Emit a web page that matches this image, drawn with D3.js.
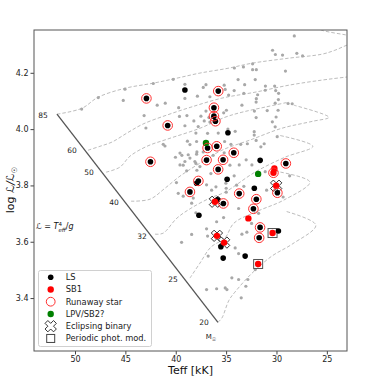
<!DOCTYPE html>
<html>
<head>
<meta charset="utf-8">
<script src="https://cdn.jsdelivr.net/npm/d3@7"></script>
<style>
body { margin: 0; background: #fff; }
text { font-family: 'DejaVu Sans', sans-serif; }
</style>
</head>
<body>
<div id="chart"></div>
<script>
// sHRD: log L_spec vs Teff

var xTicks = [50, 45, 40, 35, 30, 25]
var yTicks = [3.4, 3.6, 3.8, 4.0, 4.2]

// comparison sample (gray)
var otherStars = [
  [49.34,4.071],[47.69,4.112],[45.04,4.142],[45.21,4.102],[42.23,4.162],[40.25,4.177],[39.09,4.159],[39.09,4.109],
  [41.84,4.085],[41.04,4.092],[43.14,4.048],[42.96,4.004],[39.71,4.076],[39.63,4.045],[38.89,4.048],[39.09,4.012],
  [41.24,3.946],[41.07,3.940],[40.03,3.900],[39.58,3.915],[39.39,3.907],[39.26,3.872],[39.93,3.810],[38.84,3.957],
  [38.59,3.945],[37.85,4.117],[37.27,4.148],[37.00,4.158],[36.61,4.115],[37.00,4.064],[37.50,4.046],[38.20,4.029],
  [37.77,4.009],[36.61,4.025],[36.71,4.041],[35.24,4.058],[34.97,4.067],[35.19,4.156],[35.09,4.141],[28.23,4.331],
  [30.39,4.280],[30.11,4.265],[29.40,4.263],[27.98,4.269],[27.41,4.260],[34.18,4.217],[33.28,4.221],[32.37,4.232],
  [32.37,4.211],[32.00,4.211],[29.11,4.206],[33.81,4.176],[32.11,4.176],[33.16,4.158],[31.10,4.153],[30.18,4.153],
  [31.12,4.138],[30.08,4.137],[29.79,4.127],[34.20,4.137],[33.24,4.127],[31.87,4.122],[34.75,4.121],[32.00,4.108],
  [32.02,4.096],[33.43,4.085],[29.81,4.105],[30.13,4.092],[28.85,4.091],[28.44,4.090],[32.19,4.064],[30.92,4.066],
  [29.84,4.067],[32.02,4.041],[30.04,4.043],[30.41,4.026],[37.17,4.029],[34.82,4.000],[36.84,3.985],[38.00,3.986],
  [35.78,3.986],[32.21,3.991],[32.21,3.979],[34.10,3.992],[29.93,3.973],[30.13,4.008],[35.15,3.956],[33.55,3.946],
  [34.52,3.946],[32.89,3.948],[32.02,3.960],[31.55,3.937],[31.22,3.948],[37.90,3.919],[37.27,3.919],[35.19,3.916],
  [33.01,3.891],[33.70,3.873],[32.44,3.873],[37.90,3.854],[38.00,3.878],[31.12,3.849],[28.69,3.834],[36.51,3.842],
  [34.20,3.834],[36.01,3.795],[33.24,3.797],[35.02,3.808],[34.99,3.790],[34.99,3.776],[29.34,3.759],[30.98,3.783],
  [33.96,3.801],[37.93,3.956],[38.76,3.909],[38.59,3.897],[37.93,3.911],[38.10,3.885],[39.09,3.885],[39.58,3.873],
  [38.92,3.852],[37.60,3.867],[39.75,3.772],[38.26,3.755],[38.42,3.737],[36.94,3.802],[36.28,3.907],[34.62,3.872],
  [36.44,3.783],[39.26,3.762],[35.94,3.671],[35.25,3.686],[32.47,3.665],[33.43,3.627],[32.94,3.634],[34.92,3.590],
  [34.10,3.578],[33.76,3.558],[32.11,3.501],[34.43,3.472],[33.76,3.466],[32.84,3.466],[33.04,3.442],[35.09,3.436],
  [34.92,3.430],[33.50,3.401],[36.94,3.430],[35.94,3.433],[38.42,3.626],[36.94,3.646],[39.42,3.598],[36.78,3.549],
  [38.00,3.703],[36.84,3.620],[33.76,3.718],[31.78,3.701]
]

// [Teff, logL, runaway]
var lsStars = [
  [42.91,4.109,1],[35.78,4.135,1],[40.80,4.013,1],[36.21,4.076,1],[36.21,4.046,1],[36.06,4.028,1],
  [36.84,3.933,1],[35.93,3.939,1],[42.51,3.884,1],[36.94,3.890,1],[35.30,3.891,1],[35.79,3.857,1],
  [37.75,3.816,1],[38.59,3.777,1],[34.24,3.916,1],[29.07,3.878,1],[29.91,3.774,1],[35.27,3.736,1],
  [33.70,3.771,1],[32.00,3.751,1],[32.29,3.717,1],[31.63,3.651,1],[31.72,3.614,1],
  [39.09,4.139,0],[34.82,3.987,0],[31.62,3.889,0],[34.90,3.822,0],[37.93,3.808,0],[35.85,3.749,0],
  [37.70,3.694,0],[29.81,3.638,0],[35.52,3.582,0],[35.29,3.542,0],[33.11,3.549,0],[32.20,3.790,0]
]
var sb1Stars = [
  [30.21,3.860,0],[30.30,3.845,1],[30.03,3.799,0],[36.11,3.742,0],[32.79,3.683,0],
  [30.39,3.631,0],[35.91,3.621,0],[35.20,3.597,0],[31.82,3.521,0]
]
var lpvStars = [[37.00,3.951],[31.82,3.841]]
var eclipsing = [[30.03,3.799],[36.11,3.742],[35.91,3.621],[35.20,3.597]]
var periodic = [[30.39,3.631],[31.82,3.521]]

// evolutionary tracks
var track85 = [[51.79,4.053],[49.31,4.074],[47.72,4.113],[45.04,4.145],[42.26,4.163],[39.88,4.181],[37.60,4.199],
  [34.82,4.216],[32.44,4.234],[28.77,4.252],[25.50,4.266],[24.21,4.280],[23.02,4.298],[21.53,4.316],[21.53,4.380],
  [26.49,4.366],[25.50,4.351],[23.02,4.334],[21.23,4.323]]
var track60 = [[48.71,3.925],[47.52,3.939],[46.33,3.954],[44.84,3.986],[43.25,4.018],[40.87,4.050],[38.49,4.078],
  [35.42,4.110],[32.14,4.131],[28.77,4.156],[25.50,4.174],[23.02,4.185],[21.23,4.192]]
var track50 = [[46.92,3.847],[45.54,3.865],[44.54,3.904],[42.86,3.939],[40.87,3.964],[37.60,4.003],[35.12,4.042],
  [33.43,4.060],[31.15,4.078],[28.77,4.096]]
var track40 = [[44.44,3.744],[42.56,3.751],[41.07,3.790],[39.58,3.833],[37.60,3.879],[35.42,3.925],[32.64,3.961],
  [29.47,4.003],[26.39,4.028],[24.80,4.042],[28.28,4.085]]
var track32 = [[42.06,3.627],[41.27,3.630],[39.88,3.684],[38.49,3.719],[36.61,3.755],[35.12,3.776],[32.14,3.847],
  [29.17,3.900],[26.39,3.939],[29.86,3.979]]
var track25 = [[38.59,3.471],[37.60,3.524],[36.51,3.581],[35.12,3.613],[34.23,3.666],[31.85,3.709],[29.27,3.748],
  [26.69,3.812],[30.16,3.851]]
var track20 = [[35.81,3.314],[35.42,3.329],[34.72,3.392],[34.13,3.421],[32.44,3.488],[30.46,3.549],[28.47,3.591],
  [26.09,3.659],[29.17,3.709]]
var zams = [[51.79,4.053],[35.81,3.314]]
var massLabels = [['85',53.17,4.050],['60',50.30,3.925],['50',48.61,3.847],['40',46.13,3.741],
  ['32',43.35,3.620],['25',40.28,3.467],['20',37.20,3.314]]

var svg = d3.select('#chart').append('svg').attr('width', 382).attr('height', 382)

var x = d3.scaleLinear().domain([54.07, 23.0]).range([34, 347])
var y = d3.scaleLinear().domain([3.212, 4.352]).range([351, 30])

svg.append('clipPath').attr('id', 'clip')
  .append('rect').attr('x', 34).attr('y', 30).attr('width', 313).attr('height', 321)
var plot = svg.append('g').attr('clip-path', 'url(#clip)')

var trackLine = d3.line().x(d => x(d[0])).y(d => y(d[1])).curve(d3.curveCatmullRom.alpha(0.5))
var tracks = [track85, track60, track50, track40, track32, track25, track20]
tracks.forEach(function(t){
  plot.append('path').attr('d', trackLine(t))
    .attr('fill', 'none').attr('stroke', '#b4b4b4').attr('stroke-width', 0.9)
    .attr('stroke-dasharray', '3.5,2')
})

plot.append('path').attr('d', d3.line().x(d => x(d[0])).y(d => y(d[1]))(zams))
  .attr('fill', 'none').attr('stroke', '#555').attr('stroke-width', 1.3)

plot.selectAll('.other').data(otherStars).enter().append('circle')
  .attr('cx', d => x(d[0])).attr('cy', d => y(d[1])).attr('r', 1.6)
  .attr('fill', '#a8a8a8')

// eclipsing binaries: white X
var xSym = d3.symbol().type(d3.symbolCross).size(80)
plot.selectAll('.ecl').data(eclipsing).enter().append('path')
  .attr('d', xSym)
  .attr('transform', d => 'translate(' + x(d[0]) + ',' + y(d[1]) + ') rotate(45)')
  .attr('fill', '#fff').attr('stroke', '#111').attr('stroke-width', 0.8)

plot.selectAll('.per').data(periodic).enter().append('rect')
  .attr('x', d => x(d[0]) - 4.5).attr('y', d => y(d[1]) - 4.5)
  .attr('width', 9).attr('height', 9)
  .attr('fill', 'none').attr('stroke', '#555').attr('stroke-width', 1)

plot.selectAll('.ls').data(lsStars).enter().append('circle')
  .attr('cx', d => x(d[0])).attr('cy', d => y(d[1])).attr('r', 2.8).attr('fill', '#000')
plot.selectAll('.sb1').data(sb1Stars).enter().append('circle')
  .attr('cx', d => x(d[0])).attr('cy', d => y(d[1])).attr('r', 3.2).attr('fill', '#ff0000')
plot.selectAll('.lpv').data(lpvStars).enter().append('circle')
  .attr('cx', d => x(d[0])).attr('cy', d => y(d[1])).attr('r', 3.2).attr('fill', 'green')

var runaways = lsStars.concat(sb1Stars).filter(d => d[2] == 1)
plot.selectAll('.run').data(runaways).enter().append('circle')
  .attr('cx', d => x(d[0])).attr('cy', d => y(d[1])).attr('r', 4.8)
  .attr('fill', 'none').attr('stroke', '#ff3030').attr('stroke-width', 1)

// mass labels
svg.selectAll('.mass').data(massLabels).enter().append('text')
  .attr('x', d => x(d[1])).attr('y', d => y(d[2]))
  .attr('text-anchor', 'middle').attr('dominant-baseline', 'central')
  .attr('font-size', '7.5px').attr('fill', '#222')
  .text(d => d[0])
svg.append('text').attr('x', x(36.51)).attr('y', y(3.261))
  .attr('text-anchor', 'middle').attr('dominant-baseline', 'central')
  .attr('font-size', '7px').attr('fill', '#222')
  .text('M').append('tspan').attr('font-size', '5px').attr('dy', 2).text('\u2609')

// annotation
var ann = svg.append('text').attr('x', 36).attr('y', 229).attr('font-size', '8px').attr('fill', '#111')
ann.append('tspan').attr('font-style', 'italic').text('\u2112')
ann.append('tspan').text(' = ')
ann.append('tspan').attr('font-style', 'italic').text('T')
ann.append('tspan').attr('font-size', '5.5px').attr('dy', -3.5).text('4')
ann.append('tspan').attr('font-size', '5.5px').attr('dx', -3.5).attr('dy', 6).attr('font-style', 'italic').text('eff')
ann.append('tspan').attr('dy', -2.5).text('/')
ann.append('tspan').attr('font-style', 'italic').text('g')

// axes
var xAxis = svg.append('g').attr('transform', 'translate(0,351)')
  .call(d3.axisBottom(x).tickValues(xTicks).tickSize(3.5).tickPadding(2).tickFormat(d3.format('d')))
var yAxis = svg.append('g').attr('transform', 'translate(34,0)')
  .call(d3.axisLeft(y).tickValues(yTicks).tickSize(3.5).tickPadding(2).tickFormat(d3.format('.1f')))
;[xAxis, yAxis].forEach(function(a){
  a.select('.domain').remove()
  a.selectAll('text').attr('font-size', '8px').attr('fill', '#222').attr('font-family', 'DejaVu Sans')
  a.selectAll('line').attr('stroke', '#444')
})

svg.append('rect').attr('x', 34).attr('y', 30).attr('width', 313).attr('height', 321)
  .attr('fill', 'none').attr('stroke', '#555').attr('stroke-width', 1)

svg.append('text').attr('x', 190.5).attr('y', 374)
  .attr('text-anchor', 'middle').attr('font-size', '11px').attr('fill', '#111')
  .text('Teff [kK]')

var yl = svg.append('text').attr('transform', 'translate(14,190) rotate(-90)')
  .attr('text-anchor', 'middle').attr('font-size', '11px').attr('fill', '#111')
yl.append('tspan').text('log ')
yl.append('tspan').attr('font-style', 'italic').text('\u2112/\u2112')
yl.append('tspan').attr('font-size', '7.5px').attr('dy', 2.5).text('\u2609')

// legend
var legend = svg.append('g')
legend.append('rect').attr('x', 38.5).attr('y', 270.5).attr('width', 113).attr('height', 76)
  .attr('rx', 2).attr('fill', '#fff').attr('fill-opacity', 0.85).attr('stroke', '#d0d0d0')
var legendItems = ['LS', 'SB1', 'Runaway star', 'LPV/SB2?', 'Eclipsing binary', 'Periodic phot. mod.']
legendItems.forEach(function(name, i){
  var ly = 277.2 + i * 12.25
  var g = legend.append('g').attr('transform', 'translate(50.7,' + ly + ')')
  if (i == 0) g.append('circle').attr('r', 2.8).attr('fill', '#000')
  if (i == 1) g.append('circle').attr('r', 3.2).attr('fill', '#ff0000')
  if (i == 2) g.append('circle').attr('r', 4.4).attr('fill', 'none').attr('stroke', '#ff3030')
  if (i == 3) g.append('circle').attr('r', 3.2).attr('fill', 'green')
  if (i == 4) g.append('path').attr('d', xSym()).attr('transform', 'rotate(45)')
    .attr('fill', '#fff').attr('stroke', '#111').attr('stroke-width', 0.8)
  if (i == 5) g.append('rect').attr('x', -4).attr('y', -4).attr('width', 8).attr('height', 8)
    .attr('fill', 'none').attr('stroke', '#444')
  legend.append('text').attr('x', 65.7).attr('y', ly)
    .attr('dominant-baseline', 'central').attr('font-size', '8.3px').attr('fill', '#222')
    .text(name)
})
</script>
</body>
</html>
